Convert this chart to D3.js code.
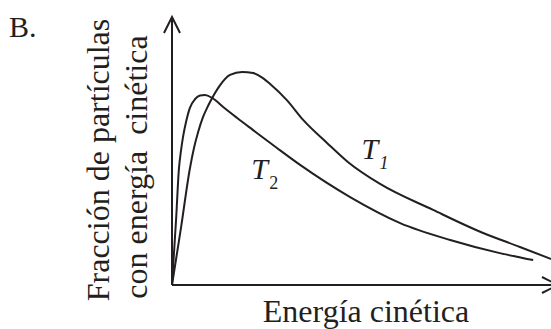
<!DOCTYPE html>
<html>
<head>
<meta charset="utf-8">
<script src="https://cdn.jsdelivr.net/npm/d3@7"></script>
<style>
html,body{margin:0;padding:0;background:#fff;}
svg{display:block;}
</style>
</head>
<body>
<script>
// Data (arbitrary units: energy 0..10, fraction 0..1)
const t1Energy = [0,0.24,0.47,0.58,0.69,0.82,0.95,1.06,1.27,1.53,1.85,2.14,2.40,2.59,3.03,3.46,4.09,4.64,5.49,6.89,8.21,9.18,10.0];
const t1Fraction = [0,0.216,0.433,0.511,0.571,0.627,0.668,0.698,0.746,0.784,0.795,0.791,0.772,0.750,0.690,0.616,0.530,0.459,0.377,0.280,0.194,0.142,0.097];
const t2Energy = [0,0.11,0.18,0.24,0.29,0.37,0.47,0.61,0.74,0.87,1.06,1.35,1.72,2.14,2.77,3.38,4.70,6.02,7.34,8.65,9.53];
const t2Fraction = [0,0.250,0.429,0.504,0.552,0.608,0.660,0.694,0.707,0.709,0.698,0.664,0.623,0.578,0.511,0.448,0.328,0.231,0.168,0.119,0.093];
const panelLabel = "B.";
const yLabelLines = ["Fracción de partículas", "con energía  cinética"];
const xLabel = "Energía cinética";
const seriesLabels = [{name: "T", sub: "1", e: 5.0, f: 0.47, subItalic: true},
                      {name: "T", sub: "2", e: 2.09, f: 0.395, subItalic: false}];

const W = 551, H = 329;
const ink = "#231f20";
const font = "'Liberation Serif','Times New Roman',serif";

const svg = d3.select("body").append("svg").attr("width", W).attr("height", H);

const x = d3.scaleLinear().domain([0, 10]).range([172, 551]);
const y = d3.scaleLinear().domain([0, 1]).range([285, 17]);

// axes
const x0 = x(0), y0 = y(0);
svg.append("line").attr("x1", x0).attr("y1", y0).attr("x2", x0).attr("y2", y(1))
  .attr("stroke", ink).attr("stroke-width", 2);
svg.append("path").attr("d", `M${x0-8},${y(1)+16}L${x0},${y(1)}L${x0+8},${y(1)+16}`)
  .attr("fill", "none").attr("stroke", ink).attr("stroke-width", 2);
const xEnd = x(10) + 7;
svg.append("line").attr("x1", x0).attr("y1", y0).attr("x2", xEnd).attr("y2", y0)
  .attr("stroke", ink).attr("stroke-width", 2);
svg.append("path").attr("d", `M${xEnd-16},${y0-8}L${xEnd},${y0}L${xEnd-16},${y0+8}`)
  .attr("fill", "none").attr("stroke", ink).attr("stroke-width", 2);

const line = d3.line().x(d => x(d[0])).y(d => y(d[1])).curve(d3.curveMonotoneX);
const s1 = t1Energy.map((e, i) => [e, t1Fraction[i]]);
const s2 = t2Energy.map((e, i) => [e, t2Fraction[i]]);
[s1, s2].forEach(s => {
  svg.append("path").attr("d", line(s)).attr("fill", "none")
    .attr("stroke", ink).attr("stroke-width", 2).attr("stroke-linejoin", "round");
});

// curve labels
seriesLabels.forEach(d => {
  const px = x(d.e), py = y(d.f);
  svg.append("text").attr("x", px).attr("y", py).attr("font-family", font)
    .attr("font-size", 30).attr("font-style", "italic").attr("fill", ink).text(d.name);
  svg.append("text").attr("x", px + 18).attr("y", py + 10).attr("font-family", font)
    .attr("font-size", 18).attr("font-style", d.subItalic ? "italic" : "normal")
    .attr("fill", ink).text(d.sub);
});

// panel label
svg.append("text").attr("x", 9).attr("y", 37).attr("font-family", font)
  .attr("font-size", 30).attr("fill", ink).text(panelLabel);

// y label
const yl = [{t: yLabelLines[0], bx: 109, cy: 160}, {t: yLabelLines[1], bx: 147, cy: 167}];
yl.forEach(d => {
  svg.append("text").attr("transform", `translate(${d.bx},${d.cy}) rotate(-90)`)
    .attr("text-anchor", "middle").attr("font-family", font).attr("font-size", 32)
    .attr("fill", ink).style("white-space", "pre").text(d.t);
});

// x label
svg.append("text").attr("x", 366).attr("y", 322).attr("text-anchor", "middle")
  .attr("font-family", font).attr("font-size", 32).attr("fill", ink).text(xLabel);
</script>
</body>
</html>
